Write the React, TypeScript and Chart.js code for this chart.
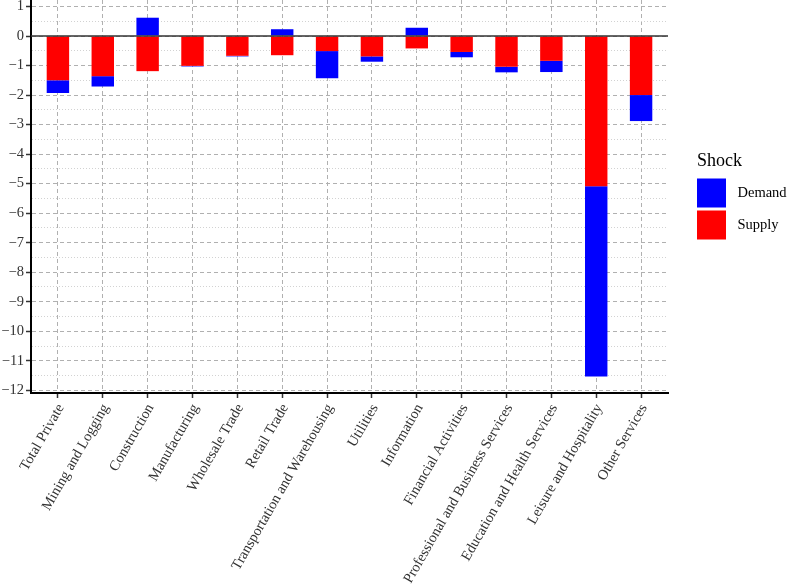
import React, { useEffect, useRef } from "react";
import { Chart, registerables } from "chart.js";

Chart.register(...registerables);

const categories: string[] = [
  "Total Private",
  "Mining and Logging",
  "Construction",
  "Manufacturing",
  "Wholesale Trade",
  "Retail Trade",
  "Transportation and Warehousing",
  "Utilities",
  "Information",
  "Financial Activities",
  "Professional and Business Services",
  "Education and Health Services",
  "Leisure and Hospitality",
  "Other Services",
];

const supply: number[] = [-1.5, -1.36, -1.19, -1.01, -0.67, -0.65, -0.51, -0.69, -0.42, -0.54, -1.04, -0.84, -5.09, -2.0];
const demand: number[] = [-0.43, -0.35, 0.62, -0.02, -0.02, 0.23, -0.92, -0.18, 0.28, -0.18, -0.19, -0.38, -6.44, -0.88];

const yTicks: number[] = [1, 0, -1, -2, -3, -4, -5, -6, -7, -8, -9, -10, -11, -12];

const legendTitle = "Shock";
const seriesNames = { supply: "Supply", demand: "Demand" };
const colors = { supply: "#ff0000", demand: "#0000ff" };

const FONT = "'Liberation Serif', 'Times New Roman', serif";

const isMajor = (v: number) => Math.abs(v - Math.round(v)) < 1e-6;

const zeroLinePlugin = {
  id: "zeroLine",
  afterDatasetsDraw(chart: any) {
    const { ctx, chartArea, scales } = chart;
    const y = scales.y.getPixelForValue(0);
    ctx.save();
    ctx.strokeStyle = "#333333";
    ctx.lineWidth = 1.6;
    ctx.setLineDash([]);
    ctx.beginPath();
    ctx.moveTo(chartArea.left, y);
    ctx.lineTo(chartArea.right, y);
    ctx.stroke();
    ctx.restore();
  },
};

const legendPlugin = {
  id: "customLegend",
  afterDraw(chart: any) {
    const { ctx, chartArea } = chart;
    const cy = (chartArea.top + chartArea.bottom) / 2;
    const x0 = chartArea.right + 29;
    ctx.save();
    ctx.fillStyle = "#000";
    ctx.font = `18px ${FONT}`;
    ctx.textAlign = "left";
    ctx.textBaseline = "alphabetic";
    ctx.fillText(legendTitle, x0, cy - 30.5);
    const items = [...chart.data.datasets].reverse();
    items.forEach((ds: any, i: number) => {
      const top = cy - 18 + i * 32;
      ctx.fillStyle = ds.backgroundColor;
      ctx.fillRect(x0, top, 29, 29);
      ctx.fillStyle = "#000";
      ctx.font = `14.5px ${FONT}`;
      ctx.textBaseline = "middle";
      ctx.fillText(ds.label, x0 + 40.5, top + 15);
    });
    ctx.restore();
  },
};

export default function App() {
  const canvasRef = useRef<HTMLCanvasElement | null>(null);

  useEffect(() => {
    if (!canvasRef.current) return;
    const yGridValues: number[] = [];
    yTicks.forEach((v) => {
      yGridValues.push(v);
      if (v - 0.5 >= -12.09) yGridValues.push(v - 0.5);
    });

    const chart = new Chart(canvasRef.current, {
      type: "bar",
      data: {
        datasets: [
          {
            label: seriesNames.supply,
            data: supply.map((v, i) => ({ x: i, y: v })),
            backgroundColor: colors.supply,
            borderWidth: 0,
            barPercentage: 0.5,
            categoryPercentage: 1,
          },
          {
            label: seriesNames.demand,
            data: demand.map((v, i) => ({ x: i, y: v })),
            backgroundColor: colors.demand,
            borderWidth: 0,
            barPercentage: 0.5,
            categoryPercentage: 1,
          },
        ],
      },
      options: {
        animation: false,
        responsive: true,
        maintainAspectRatio: false,
        layout: { padding: { left: 0, right: 119, top: 0, bottom: 0 } },
        plugins: {
          legend: { display: false },
          tooltip: { enabled: false },
        },
        scales: {
          x: {
            type: "linear",
            stacked: true,
            offset: false,
            min: -0.6,
            max: categories.length - 1 + 0.6,
            afterBuildTicks: (scale: any) => {
              scale.ticks = categories.map((_, i) => ({ value: i }));
            },
            afterFit: (scale: any) => {
              scale.height = 193;
              scale.paddingLeft = 0;
              scale.paddingRight = 0;
            },
            ticks: {
              autoSkip: false,
              minRotation: 60,
              maxRotation: 60,
              padding: 3,
              labelOffset: 3,
              color: "#333333",
              font: { family: FONT, size: 14.5 },
              callback: (v: any) => categories[Math.round(Number(v))] ?? "",
            },
            grid: {
              offset: false,
              color: "#b0b0b0",
              lineWidth: 1,
              tickColor: "#333333",
              tickLength: 5,
              tickWidth: 1.5,
            },
            border: { display: true, color: "#000000", width: 2, dash: [4, 3] },
          },
          y: {
            type: "linear",
            stacked: true,
            min: -12.09,
            max: 1.22,
            afterBuildTicks: (scale: any) => {
              scale.ticks = yGridValues.map((v) => ({ value: v }));
            },
            afterFit: (scale: any) => {
              scale.width = 31;
              scale.paddingTop = 0;
              scale.paddingBottom = 0;
            },
            ticks: {
              autoSkip: false,
              padding: 2,
              color: "#333333",
              font: { family: FONT, size: 14.5 },
              callback: (v: any) => {
                const n = Number(v);
                if (!isMajor(n)) return "";
                const r = Math.round(n);
                return r < 0 ? "\u2212" + Math.abs(r) : String(r);
              },
            },
            grid: {
              color: (c: any) => (c.tick && !isMajor(c.tick.value) ? "#d2d2d2" : "#b0b0b0"),
              lineWidth: 1,
              tickColor: (c: any) => (c.tick && isMajor(c.tick.value) ? "#333333" : "rgba(0,0,0,0)"),
              tickLength: 5,
              tickWidth: 1.5,
            },
            border: {
              display: true,
              color: "#000000",
              width: 2,
              dash: (c: any) => (c.tick && !isMajor(c.tick.value) ? [1, 2] : [4, 3]),
            },
          },
        },
      },
      plugins: [zeroLinePlugin, legendPlugin],
    } as any);

    return () => chart.destroy();
  }, []);

  return (
    <div style={{ position: "absolute", left: 0, top: 0, width: 787, height: 586 }}>
      <canvas ref={canvasRef} />
    </div>
  );
}
